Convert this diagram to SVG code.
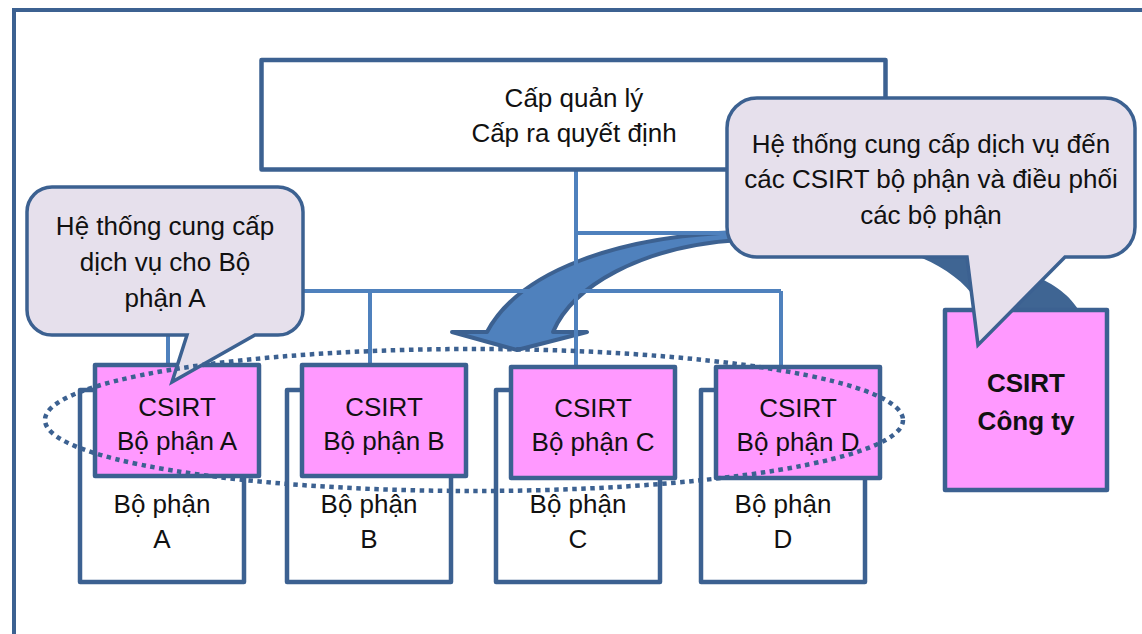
<svg xmlns="http://www.w3.org/2000/svg" width="1142" height="634" viewBox="0 0 1142 634">
  <defs>
    <style>
      .frame { fill: none; stroke: #3C6191; stroke-width: 4; }
      .box { fill: #FFFFFF; stroke: #3C6191; stroke-width: 4.5; stroke-linejoin: round; }
      .csirt { fill: #FF99FF; stroke: #3C6191; stroke-width: 4.5; stroke-linejoin: round; }
      .callout { fill: #E6E0EC; stroke: #3C6191; stroke-width: 3.5; stroke-linejoin: miter; }
      .link { fill: none; stroke: #4F81BD; stroke-width: 4; }
      .ring { fill: none; stroke: #3C6191; stroke-width: 4.5; stroke-dasharray: 4.5 4.5; }
      .txt { font-family: "Liberation Sans", Arial, sans-serif; font-size: 26px; fill: #111111; text-anchor: middle; }
      .bold { font-weight: bold; }
    </style>
  </defs>

  <rect width="1142" height="634" fill="#FFFFFF"/>

  <!-- outer frame -->
  <rect class="frame" x="14" y="10" width="1150" height="650"/>

  <!-- curved service arrow toward the department CSIRTs -->
  <path id="service-arrow" d="M740,232 C620,236 520,270 487,332 L452,332 L517,350 L587,332 L553,332 C572,287 640,246 740,240 Z" fill="#4F81BD" stroke="#3C6191" stroke-width="4" stroke-linejoin="round"/>

  <!-- band entering the company CSIRT -->
  <path id="company-band" d="M860,238 C910,250 950,266 972,294 L986,312 L1080,312 C1070,296 1056,284 1030,274 L990,258 Z" fill="#3F6593"/>

  <!-- connectors -->
  <g id="connectors">
    <line class="link" x1="576" y1="170" x2="576" y2="390"/>
    <line class="link" x1="576" y1="233" x2="740" y2="233"/>
    <line class="link" x1="168" y1="291" x2="781" y2="291"/>
    <line class="link" x1="168" y1="291" x2="168" y2="390"/>
    <line class="link" x1="370" y1="291" x2="370" y2="390"/>
    <line class="link" x1="781" y1="291" x2="781" y2="390"/>
  </g>

  <!-- management level -->
  <g id="management">
    <rect class="box" x="261.5" y="60" width="624" height="109.5"/>
    <text class="txt" x="574" y="107">Cấp quản lý</text>
    <text class="txt" x="574" y="142">Cấp ra quyết định</text>
  </g>

  <!-- departments with their CSIRTs -->
  <g id="dept-a">
    <rect class="box" x="80" y="390" width="164" height="192"/>
    <text class="txt" x="162" y="513">Bộ phận</text>
    <text class="txt" x="162" y="548">A</text>
  </g>
  <g id="csirt-a">
    <rect class="csirt" x="95" y="365" width="164" height="111"/>
    <text class="txt" x="177" y="416">CSIRT</text>
    <text class="txt" x="177" y="450">Bộ phận A</text>
  </g>

  <g id="dept-b">
    <rect class="box" x="287" y="390" width="164" height="192"/>
    <text class="txt" x="369" y="513">Bộ phận</text>
    <text class="txt" x="369" y="548">B</text>
  </g>
  <g id="csirt-b">
    <rect class="csirt" x="302" y="365" width="164" height="111"/>
    <text class="txt" x="384" y="416">CSIRT</text>
    <text class="txt" x="384" y="450">Bộ phận B</text>
  </g>

  <g id="dept-c">
    <rect class="box" x="496" y="390" width="164" height="192"/>
    <text class="txt" x="578" y="513">Bộ phận</text>
    <text class="txt" x="578" y="548">C</text>
  </g>
  <g id="csirt-c">
    <rect class="csirt" x="511" y="367" width="164" height="111"/>
    <text class="txt" x="593" y="417">CSIRT</text>
    <text class="txt" x="593" y="451">Bộ phận C</text>
  </g>

  <g id="dept-d">
    <rect class="box" x="701" y="390" width="164" height="192"/>
    <text class="txt" x="783" y="513">Bộ phận</text>
    <text class="txt" x="783" y="548">D</text>
  </g>
  <g id="csirt-d">
    <rect class="csirt" x="716" y="367" width="164" height="111"/>
    <text class="txt" x="798" y="417">CSIRT</text>
    <text class="txt" x="798" y="451">Bộ phận D</text>
  </g>

  <!-- company CSIRT -->
  <g id="csirt-company">
    <rect class="csirt" x="945" y="310" width="162" height="180"/>
    <text class="txt bold" x="1026" y="392">CSIRT</text>
    <text class="txt bold" x="1026" y="430">Công ty</text>
  </g>

  <!-- callout for department A -->
  <g id="callout-a">
    <path class="callout" d="M52,187 L278,187 A25,25 0 0 1 303,212 L303,310 A25,25 0 0 1 278,335 L255,335 L172,382 L187,335 L52,335 A25,25 0 0 1 27,310 L27,212 A25,25 0 0 1 52,187 Z"/>
    <text class="txt" x="165" y="235">Hệ thống cung cấp</text>
    <text class="txt" x="165" y="271">dịch vụ cho Bộ</text>
    <text class="txt" x="165" y="307">phận A</text>
  </g>

  <!-- callout for the company CSIRT -->
  <g id="callout-company">
    <path class="callout" d="M757,98 L1105,98 A30,30 0 0 1 1135,128 L1135,227 A30,30 0 0 1 1105,257 L1065,257 L978,345 L967,257 L757,257 A30,30 0 0 1 727,227 L727,128 A30,30 0 0 1 757,98 Z"/>
    <text class="txt" x="931" y="153">Hệ thống cung cấp dịch vụ đến</text>
    <text class="txt" x="931" y="188">các CSIRT bộ phận và điều phối</text>
    <text class="txt" x="931" y="224">các bộ phận</text>
  </g>

  <!-- grouping of the department CSIRTs -->
  <ellipse id="csirt-group" class="ring" cx="474" cy="420" rx="429" ry="71"/>
</svg>
